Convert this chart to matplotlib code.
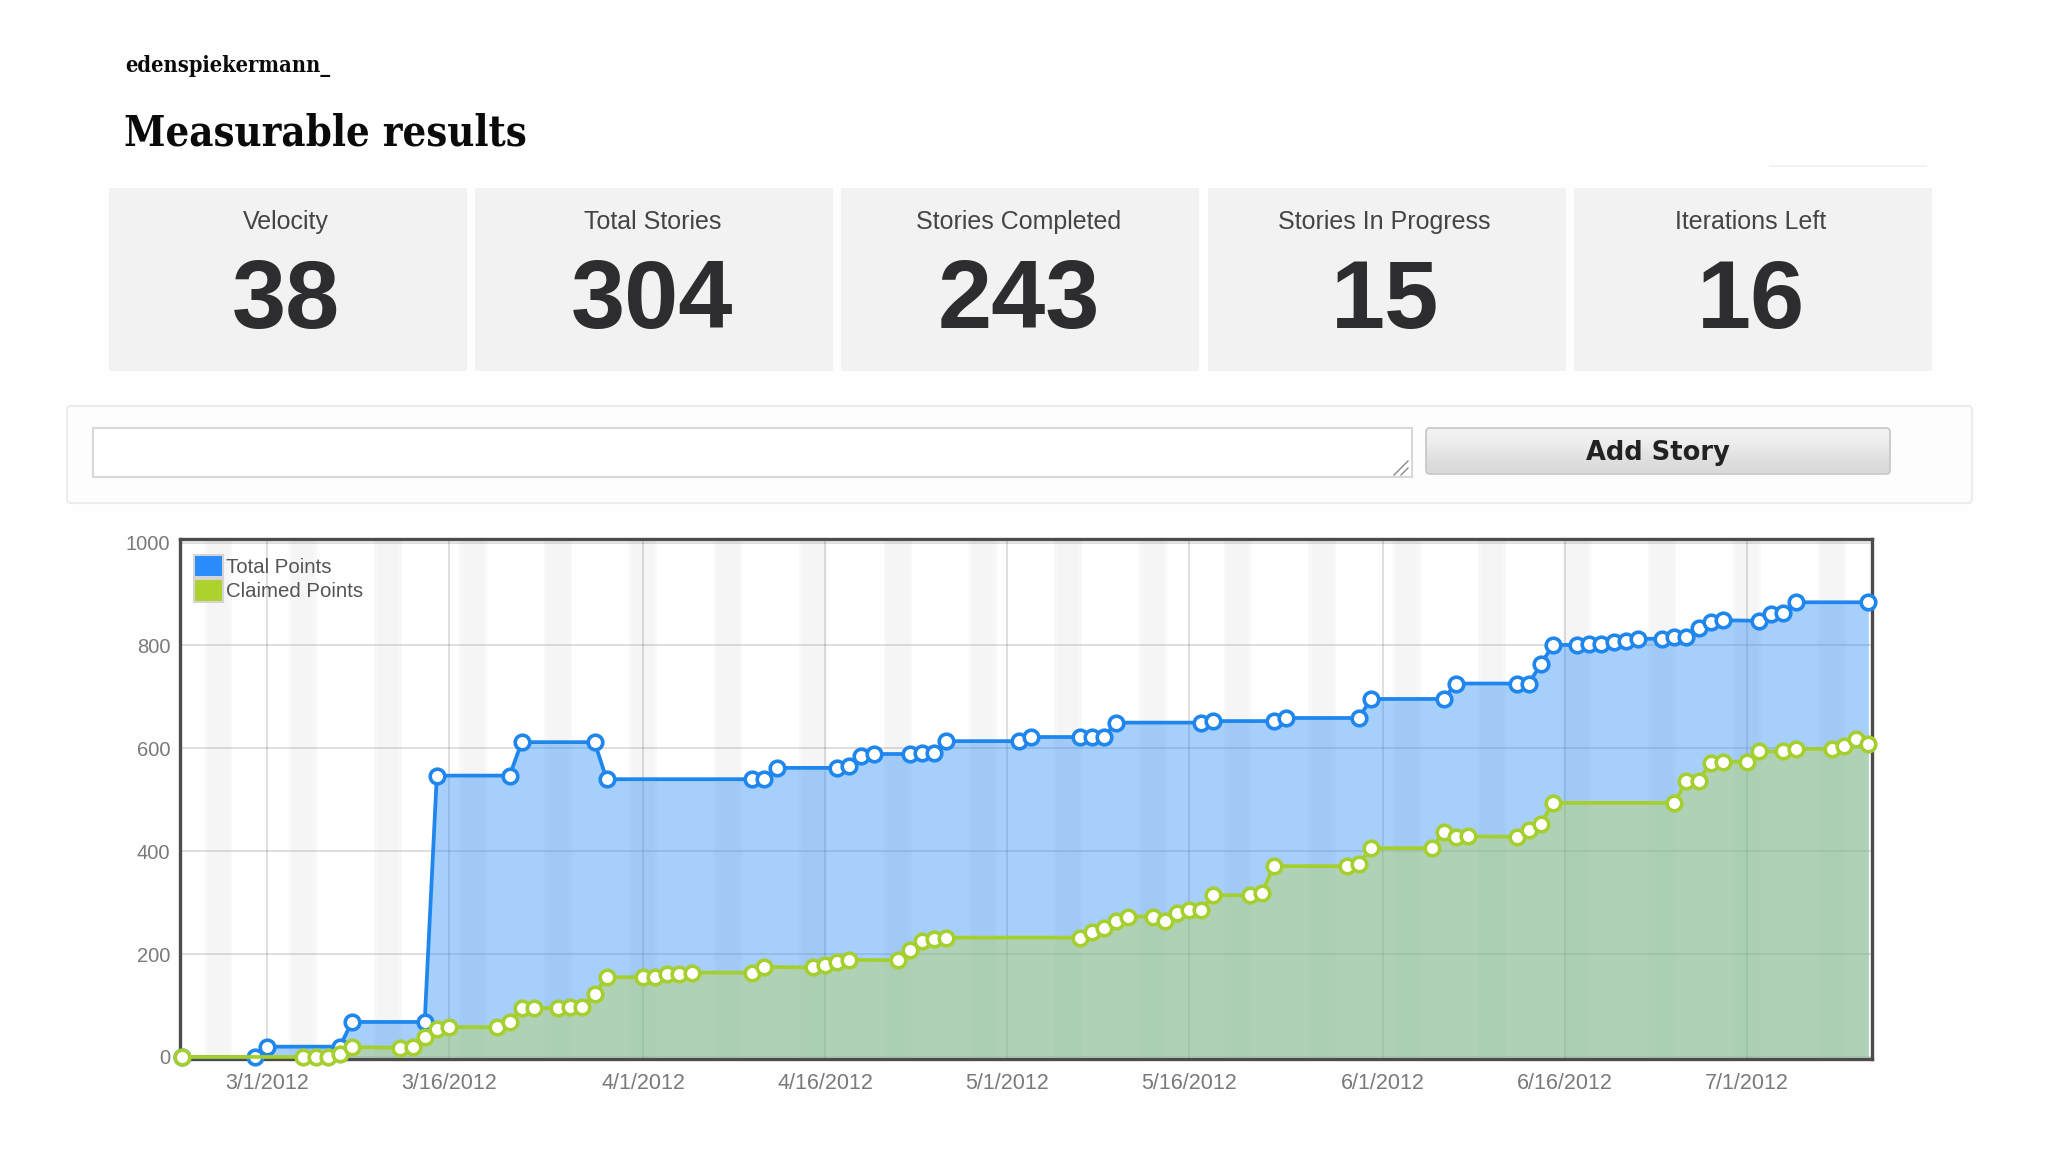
import numpy as np
import matplotlib
matplotlib.use("Agg")
import matplotlib.pyplot as plt
from matplotlib.patches import Rectangle, FancyBboxPatch, Patch

# ---- data -------------------------------------------------------------
# x values are days relative to 3/1/2012
total_days = [-7, -1, 0, 6, 7, 13, 14, 20, 21, 27, 28, 40, 41, 42, 47, 48, 49, 50, 53, 54, 55, 56,
              62, 63, 67, 68, 69, 70, 77, 78, 83, 84, 90, 91, 97, 98, 103, 104, 105, 106, 108, 109,
              110, 111, 112, 113, 115, 116, 117, 118, 119, 120, 123, 124, 125, 126, 132]
total_points = [0, 0, 20, 20, 68, 68, 547, 547, 612, 612, 540, 540, 540, 562, 562, 565, 586, 589, 589, 590, 590, 614,
                614, 622, 622, 623, 623, 650, 650, 653, 653, 659, 659, 696, 696, 726, 726, 726, 763, 801, 801, 802,
                802, 807, 808, 813, 813, 816, 816, 833, 845, 849, 848, 862, 864, 884, 884]
claimed_days = [-7, 3, 4, 5, 6, 7, 11, 12, 13, 14, 15, 19, 20, 21, 22, 24, 25, 26, 27, 28, 31, 32, 33, 34, 35,
                40, 41, 45, 46, 47, 48, 52, 53, 54, 55, 56, 67, 68, 69, 70, 71, 73, 74, 75, 76, 77, 78, 81, 82,
                83, 89, 90, 91, 96, 97, 98, 99, 103, 104, 105, 106, 116, 117, 118, 119, 120, 122, 123, 125, 126,
                129, 130, 131, 132]
claimed_points = [0, 0, 0, 0, 5, 19, 18, 20, 39, 54, 58, 58, 68, 95, 95, 95, 98, 98, 122, 155, 155, 156, 161, 161, 164,
                  164, 175, 174, 178, 184, 189, 188, 208, 226, 230, 232, 232, 243, 250, 265, 273, 273, 265, 280, 285, 285, 315, 314, 319,
                  371, 371, 376, 406, 406, 437, 427, 429, 428, 442, 453, 494, 494, 537, 537, 572, 574, 574, 594, 594, 599,
                  599, 604, 618, 609]
x_ticks = [0, 15, 31, 46, 61, 76, 92, 107, 122]
x_labels = ["3/1/2012", "3/16/2012", "4/1/2012", "4/16/2012", "5/1/2012", "5/16/2012", "6/1/2012", "6/16/2012", "7/1/2012"]
y_ticks = [0, 200, 400, 600, 800, 1000]
weekend_starts = list(range(-5, 133, 7))      # Saturdays
kpi_labels = ["Velocity", "Total Stories", "Stories Completed", "Stories In Progress", "Iterations Left"]
kpi_values = ["38", "304", "243", "15", "16"]

BLUE = "#1f86ee"
GREEN = "#a5cf2e"
SANS = ["Liberation Sans", "DejaVu Sans"]
SLAB = "DejaVu Serif"

W, H = 2048, 1152
fig = plt.figure(figsize=(W / 100, H / 100), dpi=100, facecolor="#fefefe")

# page layer in pixel coordinates
bg = fig.add_axes([0, 0, 1, 1], zorder=0)
bg.set_xlim(0, W)
bg.set_ylim(H, 0)
bg.axis("off")

bg.text(125, 66, "edenspiekermann_", family=SLAB, stretch="condensed", weight="bold", fontsize=15.7,
        color="#0a0a0a", va="center", ha="left")
bg.text(124, 134, "Measurable results", family=SLAB, stretch="condensed", weight="bold", fontsize=30,
        color="#0a0a0a", va="center", ha="left")
bg.plot([1770, 1926], [166, 166], color="#f1f1f1", lw=1.2)

for i, (lab, val) in enumerate(zip(kpi_labels, kpi_values)):
    x0 = 109 + i * 366.2
    bg.add_patch(Rectangle((x0, 188), 358, 183, facecolor="#f2f2f3", edgecolor="none"))
    bg.text(x0 + 177, 222, lab, family=SANS, fontsize=18, color="#444444", ha="center", va="center")
    bg.text(x0 + 177, 303, val, family=SANS, weight="bold", fontsize=70, color="#2d2d2f", ha="center", va="center")

# add-story form
bg.add_patch(FancyBboxPatch((67, 406), 1905, 97, boxstyle="round,pad=0,rounding_size=4",
                            facecolor="#fdfdfd", edgecolor="#ececec", lw=1.5))
bg.add_patch(Rectangle((93, 428), 1319, 49, facecolor="#ffffff", edgecolor="#d8d8da", lw=1.5))
bg.plot([1394, 1408], [475, 461], color="#8a8a8a", lw=1.0)
bg.plot([1401, 1408], [475, 468], color="#8a8a8a", lw=1.0)
btn = FancyBboxPatch((1426, 428), 464, 46, boxstyle="round,pad=0,rounding_size=4",
                     facecolor="none", edgecolor="#c8c8c8", lw=1.3, zorder=3)
bg.add_patch(btn)
grad = bg.imshow(np.array([[0.95], [0.85]]), cmap="gray", vmin=0, vmax=1, extent=(1426, 1890, 474, 428),
                 aspect="auto", interpolation="bicubic", zorder=2)
grad.set_clip_path(btn)
bg.set_xlim(0, W)
bg.set_ylim(H, 0)
bg.text(1658, 453, "Add Story", family="DejaVu Sans", weight="bold", fontsize=18.5, color="#222222",
        ha="center", va="center", zorder=4)

# chart
ax = fig.add_axes([180 / W, 1 - 1059 / H, (1872 - 180) / W, (1059 - 539) / H], zorder=1, facecolor="white")
ax.set_xlim(-7.17, 132.3)
ax.set_ylim(-4, 1007)

for s in weekend_starts:
    ax.axvspan(s - 0.15, s + 2.15, color="#f3f3f3", alpha=0.55, lw=0, zorder=0.5)
    ax.axvspan(s + 0.1, s + 1.9, color="#f3f3f3", alpha=0.6, lw=0, zorder=0.5)

ax.set_xticks(x_ticks, x_labels)
ax.set_yticks(y_ticks)
ax.grid(True, color="#555555", alpha=0.24, lw=1.1, zorder=1)
ax.set_axisbelow(True)
ax.tick_params(length=0, labelcolor="#7a7a7a")
ax.tick_params(axis="y", pad=7, labelsize=14.5)
ax.tick_params(axis="x", pad=10, labelsize=15.5)
for t in ax.get_xticklabels() + ax.get_yticklabels():
    t.set_family(SANS)

ax.fill_between(total_days, total_points, 0, color="#2a8cf8", alpha=0.41, lw=0, zorder=2)
ax.fill_between(claimed_days, claimed_points, 0, color="#bfda3d", alpha=0.36, lw=0, zorder=2.1)
ax.plot(total_days, total_points, color=BLUE, lw=2.7, marker="o", ms=10.5, mfc="white", mec=BLUE, mew=2.6,
        zorder=3, clip_on=False)
ax.plot(claimed_days, claimed_points, color=GREEN, lw=2.7, marker="o", ms=10.5, mfc="white", mec=GREEN, mew=2.6,
        zorder=3.1, clip_on=False)

for sp in ax.spines.values():
    sp.set_color("#4c4c4c")
    sp.set_linewidth(2.4)
    sp.set_zorder(2.5)

ax.legend(handles=[Patch(facecolor="#2a8bfa", edgecolor="#d4d4d4", lw=1.5, label="Total Points"),
                   Patch(facecolor="#add22f", edgecolor="#d4d4d4", lw=1.5, label="Claimed Points")],
          loc="upper left", bbox_to_anchor=(0.0085, 0.97), frameon=False, borderpad=0, borderaxespad=0,
          handlelength=1.42, handleheight=1.3, handletextpad=0.14, labelspacing=0.12,
          prop={"family": SANS, "size": 14.7}, labelcolor="#545454")

fig.savefig("out.png", dpi=100, facecolor=fig.get_facecolor())
